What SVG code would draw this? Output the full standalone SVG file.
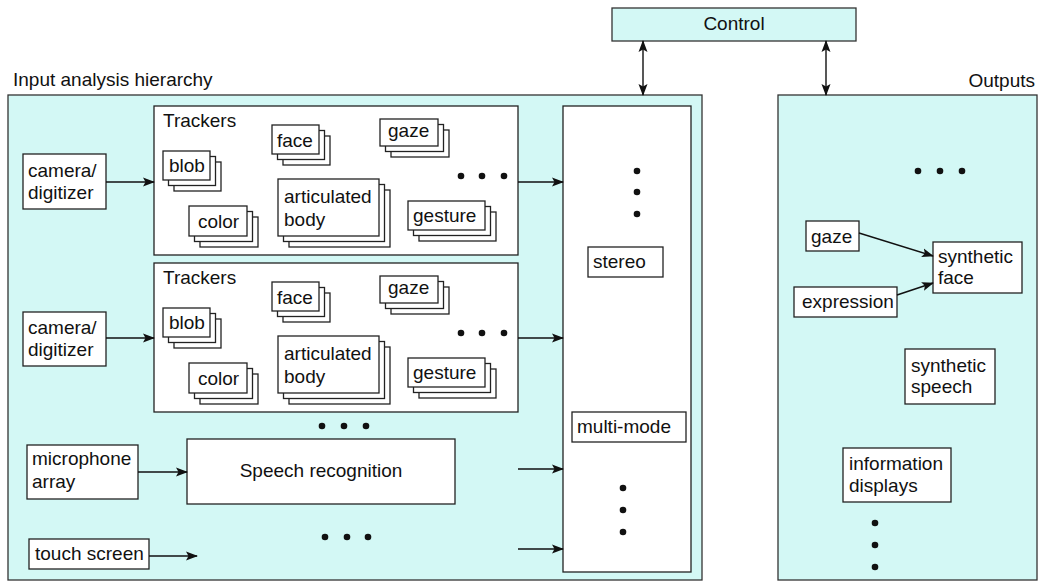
<svg xmlns="http://www.w3.org/2000/svg" width="1038" height="582" viewBox="0 0 1038 582">
  <style>
    text { font-family: "Liberation Sans", Arial, sans-serif; font-size: 19px; fill: #111; }
    .panel { fill: #d3f8f5; stroke: #333; stroke-width: 1.3; }
    .box { fill: #fff; stroke: #222; stroke-width: 1.3; }
    .wire { stroke: #111; stroke-width: 1.4; fill: none; }
    .dot { fill: #111; }
  </style>
  <defs>
    <marker id="head" markerUnits="userSpaceOnUse" markerWidth="12" markerHeight="10" viewBox="0 0 12 10" refX="11" refY="5" orient="auto-start-reverse">
      <path d="M0,0.5 L12,5 L0,9.5 L2.5,5 Z" fill="#111"/>
    </marker>
    <!-- three offset sheets for a tracker family -->
    <g id="stack-blob"><rect class="box" x="11" y="11" width="47" height="29"/><rect class="box" x="5.5" y="5.5" width="47" height="29"/><rect class="box" x="0" y="0" width="47" height="29"/></g>
    <g id="stack-face"><rect class="box" x="11" y="11" width="47" height="29"/><rect class="box" x="5.5" y="5.5" width="47" height="29"/><rect class="box" x="0" y="0" width="47" height="29"/></g>
    <g id="stack-gaze"><rect class="box" x="11" y="11" width="58" height="27"/><rect class="box" x="5.5" y="5.5" width="58" height="27"/><rect class="box" x="0" y="0" width="58" height="27"/></g>
    <g id="stack-color"><rect class="box" x="11" y="11" width="58" height="30"/><rect class="box" x="5.5" y="5.5" width="58" height="30"/><rect class="box" x="0" y="0" width="58" height="30"/></g>
    <g id="stack-body"><rect class="box" x="11" y="11" width="101" height="57"/><rect class="box" x="5.5" y="5.5" width="101" height="57"/><rect class="box" x="0" y="0" width="101" height="57"/></g>
    <g id="stack-gesture"><rect class="box" x="11" y="11" width="77" height="29"/><rect class="box" x="5.5" y="5.5" width="77" height="29"/><rect class="box" x="0" y="0" width="77" height="29"/></g>
    <!-- a full tracker panel, drawn at its own origin -->
    <g id="trackers">
      <rect class="box" x="0" y="0" width="364" height="149"/>
      <text x="9" y="21">Trackers</text>
      <use href="#stack-blob" x="9" y="45"/><text x="15" y="66">blob</text>
      <use href="#stack-face" x="118" y="19"/><text x="123" y="41">face</text>
      <use href="#stack-gaze" x="226" y="13"/><text x="234" y="31">gaze</text>
      <use href="#stack-color" x="35" y="100"/><text x="44" y="122">color</text>
      <use href="#stack-body" x="124" y="73"/><text x="130" y="97">articulated</text><text x="130" y="120">body</text>
      <use href="#stack-gesture" x="254" y="95"/><text x="259" y="116">gesture</text>
      <circle class="dot" cx="307" cy="70" r="3.3"/><circle class="dot" cx="328" cy="70" r="3.3"/><circle class="dot" cx="350" cy="70" r="3.3"/>
    </g>
  </defs>

  <!-- panels -->
  <g id="input-panel">
    <text x="13" y="86">Input analysis hierarchy</text>
    <rect class="panel" x="8" y="95" width="694" height="485"/>
  </g>
  <g id="outputs-panel">
    <text x="1035" y="87" text-anchor="end">Outputs</text>
    <rect class="panel" x="778" y="95" width="259" height="485"/>
  </g>
  <g id="control">
    <rect class="panel" x="612" y="8" width="244" height="33"/>
    <text x="734" y="30" text-anchor="middle">Control</text>
  </g>

  <!-- input side -->
  <g id="camera1">
    <rect class="box" x="23" y="154" width="83" height="55"/>
    <text x="28" y="177">camera/</text><text x="28" y="199">digitizer</text>
  </g>
  <g id="trackers1"><use href="#trackers" x="154" y="106"/></g>
  <g id="camera2">
    <rect class="box" x="23" y="312" width="83" height="54"/>
    <text x="28" y="334">camera/</text><text x="28" y="356">digitizer</text>
  </g>
  <g id="trackers2"><use href="#trackers" x="154" y="263"/></g>
  <g id="more-trackers">
    <circle class="dot" cx="322" cy="426" r="3.3"/><circle class="dot" cx="344" cy="426" r="3.3"/><circle class="dot" cx="366" cy="426" r="3.3"/>
  </g>
  <g id="microphone">
    <rect class="box" x="27" y="445" width="111" height="54"/>
    <text x="32" y="465">microphone</text><text x="32" y="488">array</text>
  </g>
  <g id="speech-recognition">
    <rect class="box" x="187" y="439" width="268" height="65"/>
    <text x="321" y="477" text-anchor="middle">Speech recognition</text>
  </g>
  <g id="more-inputs">
    <circle class="dot" cx="325" cy="537" r="3.3"/><circle class="dot" cx="347" cy="537" r="3.3"/><circle class="dot" cx="368" cy="537" r="3.3"/>
  </g>
  <g id="touch-screen">
    <rect class="box" x="29" y="539" width="120" height="30"/>
    <text x="35" y="560">touch screen</text>
  </g>

  <!-- fusion column -->
  <g id="fusion">
    <rect class="box" x="563" y="106" width="128" height="466"/>
    <circle class="dot" cx="637" cy="171" r="3.3"/><circle class="dot" cx="637" cy="192" r="3.3"/><circle class="dot" cx="637" cy="214" r="3.3"/>
    <circle class="dot" cx="623" cy="488" r="3.3"/><circle class="dot" cx="623" cy="510" r="3.3"/><circle class="dot" cx="623" cy="532" r="3.3"/>
  </g>
  <g id="stereo">
    <rect class="box" x="588" y="247" width="75" height="30"/>
    <text x="593" y="268">stereo</text>
  </g>
  <g id="multi-mode">
    <rect class="box" x="572" y="412" width="114" height="30"/>
    <text x="577" y="433">multi-mode</text>
  </g>

  <!-- output side -->
  <g id="more-outputs">
    <circle class="dot" cx="918" cy="171" r="3.3"/><circle class="dot" cx="940" cy="171" r="3.3"/><circle class="dot" cx="962" cy="171" r="3.3"/>
    <circle class="dot" cx="875" cy="523" r="3.3"/><circle class="dot" cx="875" cy="545" r="3.3"/><circle class="dot" cx="875" cy="567" r="3.3"/>
  </g>
  <g id="out-gaze">
    <rect class="box" x="806" y="221" width="53" height="30"/>
    <text x="811" y="243">gaze</text>
  </g>
  <g id="expression">
    <rect class="box" x="794" y="287" width="103" height="30"/>
    <text x="802" y="308">expression</text>
  </g>
  <g id="synthetic-face">
    <rect class="box" x="933" y="242" width="89" height="51"/>
    <text x="938" y="263">synthetic</text><text x="938" y="284">face</text>
  </g>
  <g id="synthetic-speech">
    <rect class="box" x="905" y="349" width="90" height="55"/>
    <text x="911" y="372">synthetic</text><text x="911" y="393">speech</text>
  </g>
  <g id="information-displays">
    <rect class="box" x="843" y="448" width="108" height="54"/>
    <text x="849" y="470">information</text><text x="849" y="492">displays</text>
  </g>

  <!-- connectors -->
  <g id="connectors">
    <line class="wire" x1="106" y1="182" x2="154" y2="182" marker-end="url(#head)"/>
    <line class="wire" x1="518" y1="182" x2="563" y2="182" marker-end="url(#head)"/>
    <line class="wire" x1="106" y1="338" x2="154" y2="338" marker-end="url(#head)"/>
    <line class="wire" x1="518" y1="338" x2="563" y2="338" marker-end="url(#head)"/>
    <line class="wire" x1="138" y1="472" x2="187" y2="472" marker-end="url(#head)"/>
    <line class="wire" x1="518" y1="469" x2="563" y2="469" marker-end="url(#head)"/>
    <line class="wire" x1="149" y1="556" x2="197" y2="556" marker-end="url(#head)"/>
    <line class="wire" x1="518" y1="549" x2="563" y2="549" marker-end="url(#head)"/>
    <line class="wire" x1="643" y1="41" x2="643" y2="95" marker-start="url(#head)" marker-end="url(#head)"/>
    <line class="wire" x1="826" y1="41" x2="826" y2="95" marker-start="url(#head)" marker-end="url(#head)"/>
    <line class="wire" x1="859" y1="233" x2="933" y2="256" marker-end="url(#head)"/>
    <line class="wire" x1="897" y1="295" x2="933" y2="283" marker-end="url(#head)"/>
  </g>
</svg>
